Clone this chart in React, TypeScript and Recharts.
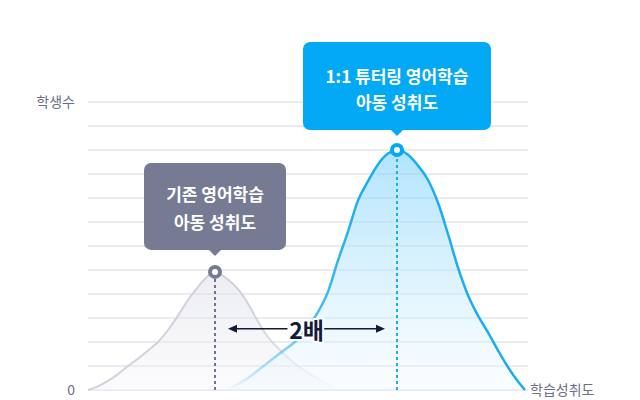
import React from 'react';
import {
  ComposedChart,
  Area,
  XAxis,
  YAxis,
  CartesianGrid,
  ReferenceLine,
  ReferenceDot,
} from 'recharts';

// x = 학습성취도 (0..44), y = 학생수 (0..12)
const GRAY_X = [0, 1, 2, 3, 4, 5, 6, 7, 8, 9, 10, 11, 12, 12.7, 13, 14, 15, 16, 17, 18, 19, 20, 21, 22, 23, 24, 25];
const GRAY_Y = [0, 0.15, 0.38, 0.66, 1, 1.3, 1.65, 2, 2.5, 3.1, 3.75, 4.3, 4.75, 4.92, 4.88, 4.6, 4.2, 3.6, 2.85, 2.2, 1.75, 1.35, 1, 0.72, 0.48, 0.25, 0.05];

const BLUE_X = [13.7, 15, 16, 17, 18, 19, 20, 21, 22, 23, 24, 25, 26, 27, 28, 29, 30, 30.9, 32, 33, 34, 35, 36, 37, 38, 39, 40, 41, 42, 43, 43.7];
const BLUE_Y = [0, 0.25, 0.5, 0.82, 1.15, 1.47, 1.78, 2.12, 2.65, 3.25, 4.1, 5.4, 6.6, 7.9, 8.7, 9.4, 9.85, 10, 9.8, 9.35, 8.75, 7.8, 6.5, 5.1, 3.95, 3.1, 2.4, 1.65, 0.95, 0.35, 0];

const Y_TICKS = [0, 1, 2, 3, 4, 5, 6, 7, 8, 9, 10, 11, 12];
const Y_TICK_LABELS: Record<number, string> = { 0: '0', 12: '학생수' };
const X_LABEL = '학습성취도';

const GRAY_PEAK = { x: 12.7, y: 4.92 };
const BLUE_PEAK = { x: 30.9, y: 10 };
const GAP_Y = 2.55;

const GRAY_LINES = ['기존 영어학습', '아동 성취도'];
const BLUE_LINES = ['1:1 튜터링 영어학습', '아동 성취도'];
const GAP_LABEL = '2배';

const grayData = GRAY_X.map((x, i) => ({ x, v: GRAY_Y[i] }));
const blueData = BLUE_X.map((x, i) => ({ x, v: BLUE_Y[i] }));

const FONT = '"Noto Sans CJK KR", "Noto Sans", sans-serif';

const Callout = (props: any) => {
  const { cx, cy, color, lines, w, top, bottom, textY } = props;
  if (cx == null || cy == null) return null;
  return (
    <g>
      <rect x={cx - w / 2} y={cy - top} width={w} height={top - bottom} rx={7} fill={color} />
      <path d={`M${cx - 6},${cy - bottom} L${cx},${cy - bottom + 6} L${cx + 6},${cy - bottom} Z`} fill={color} />
      {lines.map((t: string, i: number) => (
        <text
          key={i}
          x={cx}
          y={cy - textY[i]}
          textAnchor="middle"
          dominantBaseline="central"
          fill="#fff"
          fontSize={17}
          fontWeight={700}
          fontFamily={FONT}
        >
          {t}
        </text>
      ))}
      <circle cx={cx} cy={cy} r={7} fill={color} />
      <circle cx={cx} cy={cy} r={3} fill="#fff" />
    </g>
  );
};

const GapArrow = (props: any) => {
  const { x1, y1, x2 } = props;
  if (x1 == null) return null;
  const a = Math.min(x1, x2) + 13;
  const b = Math.max(x1, x2) - 12;
  const mid = (a + b) / 2;
  const c = '#141a3a';
  return (
    <g>
      <line x1={a + 6} y1={y1} x2={mid - 19} y2={y1} stroke={c} strokeWidth={1.5} />
      <path d={`M${a},${y1} L${a + 9},${y1 - 4} L${a + 9},${y1 + 4} Z`} fill={c} />
      <line x1={mid + 17} y1={y1} x2={b - 6} y2={y1} stroke={c} strokeWidth={1.5} />
      <path d={`M${b},${y1} L${b - 9},${y1 - 4} L${b - 9},${y1 + 4} Z`} fill={c} />
      <text
        x={mid}
        y={y1}
        textAnchor="middle"
        dominantBaseline="central"
        fill={c}
        fontSize={23}
        fontWeight={700}
        fontFamily={FONT}
        stroke="#fff"
        strokeWidth={4}
        paintOrder="stroke"
      >
        {GAP_LABEL}
      </text>
    </g>
  );
};

export default function App() {
  return (
    <div style={{ position: 'absolute', left: 0, top: 0, width: 640, height: 400, background: '#fff', fontFamily: FONT }}>
      <ComposedChart width={640} height={400} margin={{ top: 102, right: 112, bottom: 10, left: 0 }}>
        <defs>
          <linearGradient id="grayFill" x1="0" y1="0" x2="0" y2="1">
            <stop offset="0%" stopColor="#dedfe8" stopOpacity={0.95} />
            <stop offset="100%" stopColor="#f3f4f8" stopOpacity={0.6} />
          </linearGradient>
          <linearGradient id="grayStroke" x1="0" y1="0" x2="1" y2="0">
            <stop offset="0%" stopColor="#d0d1dc" />
            <stop offset="65%" stopColor="#d0d1dc" />
            <stop offset="100%" stopColor="#d0d1dc" stopOpacity={0} />
          </linearGradient>
          <linearGradient id="blueFill" x1="0" y1="0" x2="0" y2="1">
            <stop offset="0%" stopColor="#7dd1fa" stopOpacity={1} />
            <stop offset="60%" stopColor="#c6ebfd" stopOpacity={0.85} />
            <stop offset="100%" stopColor="#eef9ff" stopOpacity={0.5} />
          </linearGradient>
          <linearGradient id="blueStroke" x1="0" y1="0" x2="1" y2="0">
            <stop offset="0%" stopColor="#1aaef0" stopOpacity={0} />
            <stop offset="30%" stopColor="#1aaef0" stopOpacity={0.8} />
            <stop offset="45%" stopColor="#1aaef0" />
            <stop offset="100%" stopColor="#1aaef0" />
          </linearGradient>
        </defs>
        <CartesianGrid horizontal vertical={false} stroke="#d6d6e2" strokeWidth={1} />
        <XAxis type="number" dataKey="x" domain={[0, 44]} hide />
        <YAxis
          type="number"
          domain={[0, 12]}
          ticks={Y_TICKS}
          width={88}
          axisLine={false}
          tickLine={false}
          tickMargin={7}
          interval={0}
          tickFormatter={(v: number) => Y_TICK_LABELS[v] ?? ''}
          tick={{ fontSize: 14, fill: '#6c6f87', fontFamily: FONT }}
        />
        <Area
          data={grayData}
          dataKey="v"
          type="monotone"
          stroke="url(#grayStroke)"
          strokeWidth={2}
          fill="url(#grayFill)"
          isAnimationActive={false}
          dot={false}
          activeDot={false}
        />
        <Area
          data={blueData}
          dataKey="v"
          type="monotone"
          stroke="url(#blueStroke)"
          strokeWidth={2.5}
          fill="url(#blueFill)"
          isAnimationActive={false}
          dot={false}
          activeDot={false}
        />
        <ReferenceLine
          y={0}
          stroke="none"
          label={{ value: X_LABEL, position: 'right', fill: '#6c6f87', fontSize: 14, fontFamily: FONT, offset: 2 }}
        />
        <ReferenceLine
          segment={[{ x: GRAY_PEAK.x, y: 0 }, { x: GRAY_PEAK.x, y: GRAY_PEAK.y }]}
          stroke="#6f7290"
          strokeWidth={2}
          strokeDasharray="3 3"
        />
        <ReferenceLine
          segment={[{ x: BLUE_PEAK.x, y: 0 }, { x: BLUE_PEAK.x, y: BLUE_PEAK.y }]}
          stroke="#1aaef0"
          strokeWidth={2}
          strokeDasharray="3 3"
        />
        <ReferenceLine
          segment={[{ x: GRAY_PEAK.x, y: GAP_Y }, { x: BLUE_PEAK.x, y: GAP_Y }]}
          shape={(p: any) => <GapArrow {...p} />}
        />
        <ReferenceDot
          x={GRAY_PEAK.x}
          y={GRAY_PEAK.y}
          shape={(p: any) => (
            <Callout {...p} color="#777a93" lines={GRAY_LINES} w={142} top={109} bottom={22} textY={[78, 50]} />
          )}
        />
        <ReferenceDot
          x={BLUE_PEAK.x}
          y={BLUE_PEAK.y}
          shape={(p: any) => (
            <Callout {...p} color="#03a9f4" lines={BLUE_LINES} w={188} top={108} bottom={20} textY={[75, 49]} />
          )}
        />
      </ComposedChart>
    </div>
  );
}
